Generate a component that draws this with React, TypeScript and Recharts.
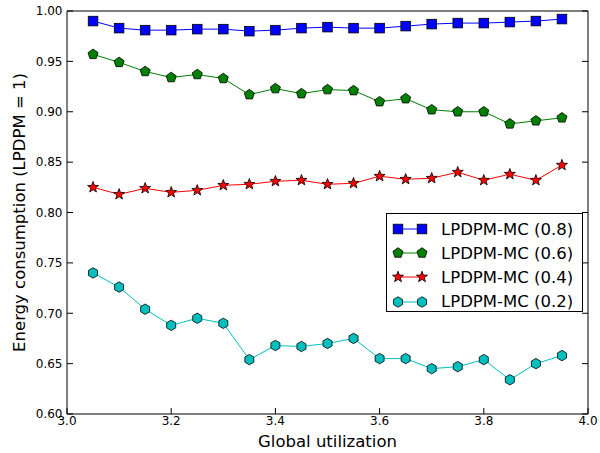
import { LineChart, Line, XAxis, YAxis, Legend, ReferenceLine } from "recharts"

const utilization = [
  3.05, 3.1, 3.15, 3.2, 3.25, 3.3, 3.35, 3.4, 3.45, 3.5, 3.55, 3.6, 3.65, 3.7,
  3.75, 3.8, 3.85, 3.9, 3.95,
]
const mc08 = [
  0.99, 0.983, 0.981, 0.981, 0.982, 0.982, 0.98, 0.981, 0.983, 0.984, 0.983,
  0.983, 0.985, 0.987, 0.988, 0.988, 0.989, 0.99, 0.992,
]
const mc06 = [
  0.957, 0.949, 0.94, 0.934, 0.937, 0.933, 0.917, 0.923, 0.918, 0.922, 0.921,
  0.91, 0.913, 0.902, 0.9, 0.9, 0.888, 0.891, 0.894,
]
const mc04 = [
  0.825, 0.818, 0.824, 0.82, 0.822, 0.827, 0.828, 0.831, 0.832, 0.828, 0.829,
  0.836, 0.833, 0.834, 0.84, 0.832, 0.838, 0.832, 0.847,
]
const mc02 = [
  0.74, 0.726, 0.704, 0.688, 0.695, 0.69, 0.654, 0.668, 0.667, 0.67, 0.675,
  0.655, 0.655, 0.645, 0.647, 0.654, 0.634, 0.65, 0.658,
]
const xTicks = [3.0, 3.2, 3.4, 3.6, 3.8, 4.0]
const yTicks = [0.6, 0.65, 0.7, 0.75, 0.8, 0.85, 0.9, 0.95, 1.0]

type Shape = "square" | "pentagon" | "star" | "hexagon"

const series: { key: string; name: string; color: string; shape: Shape; values: number[] }[] = [
  { key: "mc08", name: "LPDPM-MC (0.8)", color: "#0000ff", shape: "square", values: mc08 },
  { key: "mc06", name: "LPDPM-MC (0.6)", color: "#008000", shape: "pentagon", values: mc06 },
  { key: "mc04", name: "LPDPM-MC (0.4)", color: "#ff0000", shape: "star", values: mc04 },
  { key: "mc02", name: "LPDPM-MC (0.2)", color: "#00bfbf", shape: "hexagon", values: mc02 },
]

const data = utilization.map((u, i) => {
  const row: Record<string, number> = { u }
  series.forEach((s) => (row[s.key] = s.values[i]))
  return row
})

const FONT = "DejaVu Sans, sans-serif"

function polygon(cx: number, cy: number, n: number, r: number, r2?: number) {
  const pts: string[] = []
  const count = r2 ? n * 2 : n
  for (let i = 0; i < count; i++) {
    const a = -Math.PI / 2 + (i * 2 * Math.PI) / count
    const rr = r2 && i % 2 === 1 ? r2 : r
    pts.push(`${cx + rr * Math.cos(a)},${cy + rr * Math.sin(a)}`)
  }
  return pts.join(" ")
}

function Marker({ cx, cy, shape, color }: { cx: number; cy: number; shape: Shape; color: string }) {
  const common = { fill: color, stroke: "#000", strokeWidth: 0.8 }
  if (shape === "square")
    return <rect x={cx - 4.8} y={cy - 4.8} width={9.6} height={9.6} {...common} />
  if (shape === "pentagon") return <polygon points={polygon(cx, cy, 5, 5.3)} {...common} />
  if (shape === "star") return <polygon points={polygon(cx, cy, 5, 5.8, 2.4)} {...common} />
  return <polygon points={polygon(cx, cy, 6, 5.2)} {...common} />
}

function LegendBox() {
  return (
    <div
      style={{
        border: "1px solid #000",
        background: "#fff",
        width: 197,
        height: 99,
        boxSizing: "border-box",
        paddingTop: 3,
        fontFamily: FONT,
        fontSize: 16.5,
      }}
    >
      {series.map((s) => (
        <div key={s.key} style={{ height: 24.2, display: "flex", alignItems: "center" }}>
          <svg width={50} height={20} style={{ flex: "none" }}>
            <line x1={11} x2={35} y1={10} y2={10} stroke={s.color} strokeWidth={1} />
            <Marker cx={11} cy={10} shape={s.shape} color={s.color} />
            <Marker cx={35} cy={10} shape={s.shape} color={s.color} />
          </svg>
          <span style={{ marginLeft: 4, whiteSpace: "nowrap" }}>{s.name}</span>
        </div>
      ))}
    </div>
  )
}

const tickStyle = { fill: "#000", fontSize: 12, fontFamily: FONT }
const axisStroke = { stroke: "#000", strokeWidth: 1 }

// short inward tick on the right frame
const rightTick = (p: any) => (
  <line x1={p.x2 - 6} x2={p.x2} y1={p.y1} y2={p.y2} stroke="#000" strokeWidth={1} />
)

export default function App() {
  return (
    <div style={{ position: "absolute", left: 0, top: 0, width: 600, height: 453, background: "#fff" }}>
      <LineChart
        width={600}
        height={453}
        data={data}
        margin={{ top: 0, right: 12, bottom: 0, left: 0 }}
      >
        <XAxis
          dataKey="u"
          type="number"
          domain={[3, 4]}
          ticks={xTicks}
          tickFormatter={(v: number) => v.toFixed(1)}
          height={39}
          tickSize={-6}
          tickMargin={8}
          tick={tickStyle}
          axisLine={axisStroke}
          tickLine={axisStroke}
          label={{
            value: "Global utilization",
            position: "insideBottom",
            offset: 6,
            fill: "#000",
            fontSize: 16.5,
            fontFamily: FONT,
          }}
        />
        <XAxis
          xAxisId="top"
          dataKey="u"
          type="number"
          orientation="top"
          domain={[3, 4]}
          ticks={xTicks}
          height={11}
          tickSize={-6}
          tick={false}
          axisLine={axisStroke}
          tickLine={axisStroke}
        />
        <YAxis
          type="number"
          domain={[0.6, 1.0]}
          ticks={yTicks}
          tickFormatter={(v: number) => v.toFixed(2)}
          width={67}
          tickSize={-6}
          tickMargin={10.5}
          tick={tickStyle}
          axisLine={axisStroke}
          tickLine={axisStroke}
          label={{
            value: "Energy consumption (LPDPM = 1)",
            angle: -90,
            position: "insideLeft",
            offset: 19,
            fill: "#000",
            fontSize: 16.5,
            fontFamily: FONT,
            style: { textAnchor: "middle" },
          }}
        />
        <ReferenceLine x={4} stroke="#000" strokeWidth={1} />
        {yTicks.map((t) => (
          <ReferenceLine key={t} y={t} shape={rightTick} />
        ))}
        {series.map((s) => (
          <Line
            key={s.key}
            dataKey={s.key}
            name={s.name}
            type="linear"
            stroke={s.color}
            strokeWidth={1}
            isAnimationActive={false}
            dot={(p: any) => (
              <Marker key={`${s.key}-${p.index}`} cx={p.cx} cy={p.cy} shape={s.shape} color={s.color} />
            )}
            activeDot={false}
          />
        ))}
        <Legend
          layout="vertical"
          align="center"
          verticalAlign="middle"
          content={<LegendBox />}
          wrapperStyle={{ left: 386, top: 213, right: "auto", bottom: "auto", width: 197, height: 99 }}
        />
      </LineChart>
    </div>
  )
}
